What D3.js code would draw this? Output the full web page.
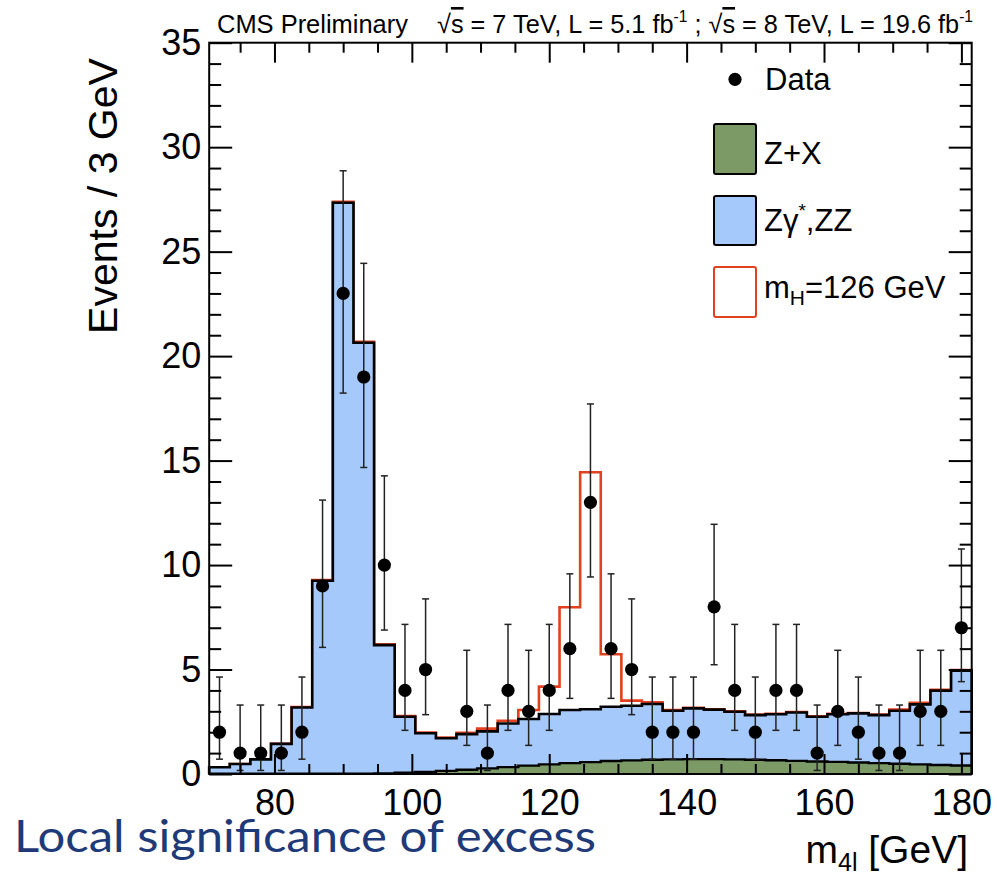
<!DOCTYPE html>
<html><head><meta charset="utf-8">
<script src="https://cdn.jsdelivr.net/npm/d3@7"></script>
<style>body{margin:0;background:#fff} svg{display:block} text{font-family:"Liberation Sans",Arial,sans-serif}</style>
</head><body><svg id="c" width="997" height="881"></svg>
<script>
// ---- data ----
const massBins = [72,75,78,81,84,87,90,93,96,99,102,105,108,111,114,117,120,123,126,129,132,135,138,141,144,147,150,153,156,159,162,165,168,171,174,177,180];
const dataCounts = [2,1,1,1,2,9,23,19,10,4,5,0,3,1,4,3,4,6,13,6,5,2,2,2,8,4,2,4,4,1,3,2,1,1,3,3,7];
const dataErrLow = [0.71,0.17,0.17,0.17,0.71,6.06,18.23,14.67,6.89,2.09,2.84,null,1.37,0.17,2.09,1.37,2.09,3.62,9.43,3.62,2.84,0.71,0.71,0.71,5.23,2.09,0.71,2.09,2.09,0.17,1.37,0.71,0.17,0.17,1.37,1.37,4.42];
const dataErrHigh = [4.64,3.30,3.30,3.30,4.64,13.11,28.87,24.44,14.27,7.16,8.38,null,5.92,3.30,7.16,5.92,7.16,9.58,17.71,9.58,8.38,4.64,4.64,4.64,11.95,7.16,4.64,7.16,7.16,3.30,5.92,4.64,3.30,3.30,5.92,5.92,10.77];
const zxValues = [0.01,0.01,0.01,0.01,0.01,0.01,0.01,0.02,0.03,0.06,0.10,0.15,0.20,0.27,0.33,0.40,0.46,0.52,0.57,0.62,0.65,0.68,0.70,0.71,0.71,0.70,0.68,0.66,0.63,0.60,0.58,0.55,0.52,0.49,0.46,0.43,0.41];
const zzValues = [0.31,0.47,0.69,1.43,3.17,9.24,27.33,20.62,6.14,2.68,1.85,1.56,1.71,1.77,2.09,2.23,2.41,2.54,2.53,2.60,2.62,2.67,2.33,2.43,2.37,2.28,2.14,2.20,2.31,2.14,2.28,2.35,2.30,2.54,2.87,3.56,4.53];
const sigValues = [0,0,0,0.01,0.02,0.03,0.05,0.05,0.04,0.03,0.03,0.03,0.06,0.13,0.13,0.43,1.31,4.92,11.34,2.51,0.24,0.08,0.03,0.03,0.02,0.02,0.02,0.02,0.02,0.02,0.02,0.02,0.03,0.06,0.08,0.04,0.03];
const xTickLabels = [80,100,120,140,160,180];
const yTickLabels = [0,5,10,15,20,25,30,35];
const legendLabels = ["Data","Z+X","Zγ*,ZZ","mH=126 GeV"];

// ---- layout ----
const svg = d3.select('#c');
const x = d3.scaleLinear().domain([70.5,181.5]).range([209.2,971.7]);
const y = d3.scaleLinear().domain([0,35]).range([774,42.7]);
const half = 1.5;
const colZX = '#7b9a66', colZZ = '#a6c9fb', colSig = '#e3401f';

const rows = massBins.map((m,i)=>({m, zx:zxValues[i], zz:zzValues[i], sig:sigValues[i]}));
const series = d3.stack().keys(['zx','zz','sig'])(rows);

function steps(s){
  const pts=[[x.domain()[0],0]];
  s.forEach((d,i)=>{ pts.push([massBins[i]-half,d[1]]); pts.push([massBins[i]+half,d[1]]); });
  pts.push([x.domain()[1],0]);
  return pts;
}
const line = d3.line().x(d=>x(d[0])).y(d=>y(d[1]));
const area = d3.area().x(d=>x(d[0])).y0(y(0)).y1(d=>y(d[1]));

const g = svg.append('g');
g.append('path').attr('d', line(steps(series[2]))).attr('fill','none').attr('stroke',colSig).attr('stroke-width',2.6);
g.append('path').attr('d', area(steps(series[1]))).attr('fill',colZZ);
g.append('path').attr('d', line(steps(series[1]))).attr('fill','none').attr('stroke','#000').attr('stroke-width',2.6);
g.append('path').attr('d', area(steps(series[0]))).attr('fill',colZX);
g.append('path').attr('d', line(steps(series[0]))).attr('fill','none').attr('stroke','#000').attr('stroke-width',2.4);

// data points
const pts = massBins.map((m,i)=>({m,n:dataCounts[i],lo:dataErrLow[i],hi:dataErrHigh[i]})).filter(d=>d.n>0);
const dp = svg.append('g');
dp.selectAll('line.eb').data(pts).join('line').attr('class','eb')
  .attr('x1',d=>x(d.m)).attr('x2',d=>x(d.m)).attr('y1',d=>y(d.lo)).attr('y2',d=>y(d.hi))
  .attr('stroke','#222').attr('stroke-width',1.5);
['lo','hi'].forEach(k=>{
  dp.selectAll('line.cap'+k).data(pts).join('line').attr('class','cap'+k)
    .attr('x1',d=>x(d.m)-3.5).attr('x2',d=>x(d.m)+3.5).attr('y1',d=>y(d[k])).attr('y2',d=>y(d[k]))
    .attr('stroke','#222').attr('stroke-width',1.5);
});
dp.selectAll('circle').data(pts).join('circle').attr('cx',d=>x(d.m)).attr('cy',d=>y(d.n)).attr('r',6.6).attr('fill','#000');

// axes
const xMinor = d3.range(75,182,5).filter(v=>!xTickLabels.includes(v));
const yMinor = d3.range(1,35,1).filter(v=>!yTickLabels.includes(v));
function styleAxis(sel){ sel.select('.domain').remove(); sel.selectAll('.tick line').attr('stroke','#000').attr('stroke-width',2); sel.selectAll('.tick text').attr('fill','#000').style('font-size','36px').style('font-family','Liberation Sans, Arial, sans-serif'); }
const ax = svg.append('g');
ax.append('g').attr('transform','translate(0,774)').call(d3.axisBottom(x).tickValues(xTickLabels).tickSizeInner(-20).tickSizeOuter(0).tickPadding(15)).call(styleAxis);
ax.append('g').attr('transform','translate(0,774)').call(d3.axisBottom(x).tickValues(xMinor).tickSizeInner(-10).tickSizeOuter(0).tickFormat('')).call(styleAxis);
ax.append('g').attr('transform',`translate(0,${y(35)})`).call(d3.axisTop(x).tickValues(xTickLabels).tickSizeInner(-20).tickSizeOuter(0).tickFormat('')).call(styleAxis);
ax.append('g').attr('transform',`translate(0,${y(35)})`).call(d3.axisTop(x).tickValues(xMinor).tickSizeInner(-10).tickSizeOuter(0).tickFormat('')).call(styleAxis);
ax.append('g').attr('transform',`translate(${x(70.5)},0)`).call(d3.axisLeft(y).tickValues(yTickLabels).tickSizeInner(-23).tickSizeOuter(0).tickPadding(8)).call(styleAxis);
ax.append('g').attr('transform',`translate(${x(70.5)},0)`).call(d3.axisLeft(y).tickValues(yMinor).tickSizeInner(-12).tickSizeOuter(0).tickFormat('')).call(styleAxis);
ax.append('g').attr('transform',`translate(${x(181.5)},0)`).call(d3.axisRight(y).tickValues(yTickLabels).tickSizeInner(-23).tickSizeOuter(0).tickFormat('')).call(styleAxis);
ax.append('g').attr('transform',`translate(${x(181.5)},0)`).call(d3.axisRight(y).tickValues(yMinor).tickSizeInner(-12).tickSizeOuter(0).tickFormat('')).call(styleAxis);
svg.append('rect').attr('x',x(70.5)).attr('y',y(35)).attr('width',x(181.5)-x(70.5)).attr('height',y(0)-y(35))
  .attr('fill','none').attr('stroke','#000').attr('stroke-width',2);

// axis titles
svg.append('text').attr('transform','translate(117,196) rotate(-90)').attr('text-anchor','middle')
  .style('font-size','41px').text('Events / 3 GeV');
const xt = svg.append('text').attr('x',968).attr('y',863).attr('text-anchor','end').style('font-size','39px');
xt.append('tspan').text('m');
xt.append('tspan').attr('dy',8).style('font-size','25px').text('4l');
xt.append('tspan').attr('dy',-8).text(' [GeV]');

// header
svg.append('text').attr('x',217).attr('y',33).style('font-size','26px').attr('textLength',191).attr('lengthAdjust','spacingAndGlyphs').text('CMS Preliminary');
const hd = svg.append('text').attr('x',437).attr('y',33).style('font-size','26px').attr('textLength',536).attr('lengthAdjust','spacingAndGlyphs');
hd.append('tspan').text('√');
hd.append('tspan').style('text-decoration','overline').text('s');
hd.append('tspan').text(' = 7 TeV, L = 5.1 fb');
hd.append('tspan').attr('dy',-11).style('font-size','16px').text('-1');
hd.append('tspan').attr('dy',11).text(' ; √');
hd.append('tspan').style('text-decoration','overline').text('s');
hd.append('tspan').text(' = 8 TeV, L = 19.6 fb');
hd.append('tspan').attr('dy',-11).style('font-size','16px').text('-1');

// legend
const lg = svg.append('g');
const lfs = '31px';
lg.append('circle').attr('cx',735).attr('cy',79.3).attr('r',6.6).attr('fill','#000');
lg.append('text').attr('x',765).attr('y',90).style('font-size',lfs).text(legendLabels[0]);
lg.append('rect').attr('x',714).attr('y',124).attr('width',42).attr('height',50).attr('rx',2).attr('fill',colZX).attr('stroke','#000').attr('stroke-width',2);
lg.append('text').attr('x',764).attr('y',164).style('font-size',lfs).text(legendLabels[1]);
lg.append('rect').attr('x',714).attr('y',196).attr('width',42).attr('height',49).attr('rx',2).attr('fill',colZZ).attr('stroke','#000').attr('stroke-width',2);
const t2 = lg.append('text').attr('x',764).attr('y',231).style('font-size',lfs);
t2.append('tspan').text('Zγ');
t2.append('tspan').attr('dy',-14).style('font-size','19px').text('*');
t2.append('tspan').attr('dy',14).text(',ZZ');
lg.append('rect').attr('x',714).attr('y',267).attr('width',42).attr('height',50).attr('rx',2).attr('fill','#fff').attr('stroke',colSig).attr('stroke-width',2);
const t3 = lg.append('text').attr('x',764).attr('y',298).style('font-size',lfs);
t3.append('tspan').text('m');
t3.append('tspan').attr('dy',7).style('font-size','21px').text('H');
t3.append('tspan').attr('dy',-7).text('=126 GeV');

// slide text
svg.append('text').attr('x',14).attr('y',852).style('font-family','Lato, "Open Sans", sans-serif').style('font-size','45px')
  .attr('fill','#1f3a78').attr('textLength',582).attr('lengthAdjust','spacingAndGlyphs').text('Local significance of excess');
</script></body></html>
